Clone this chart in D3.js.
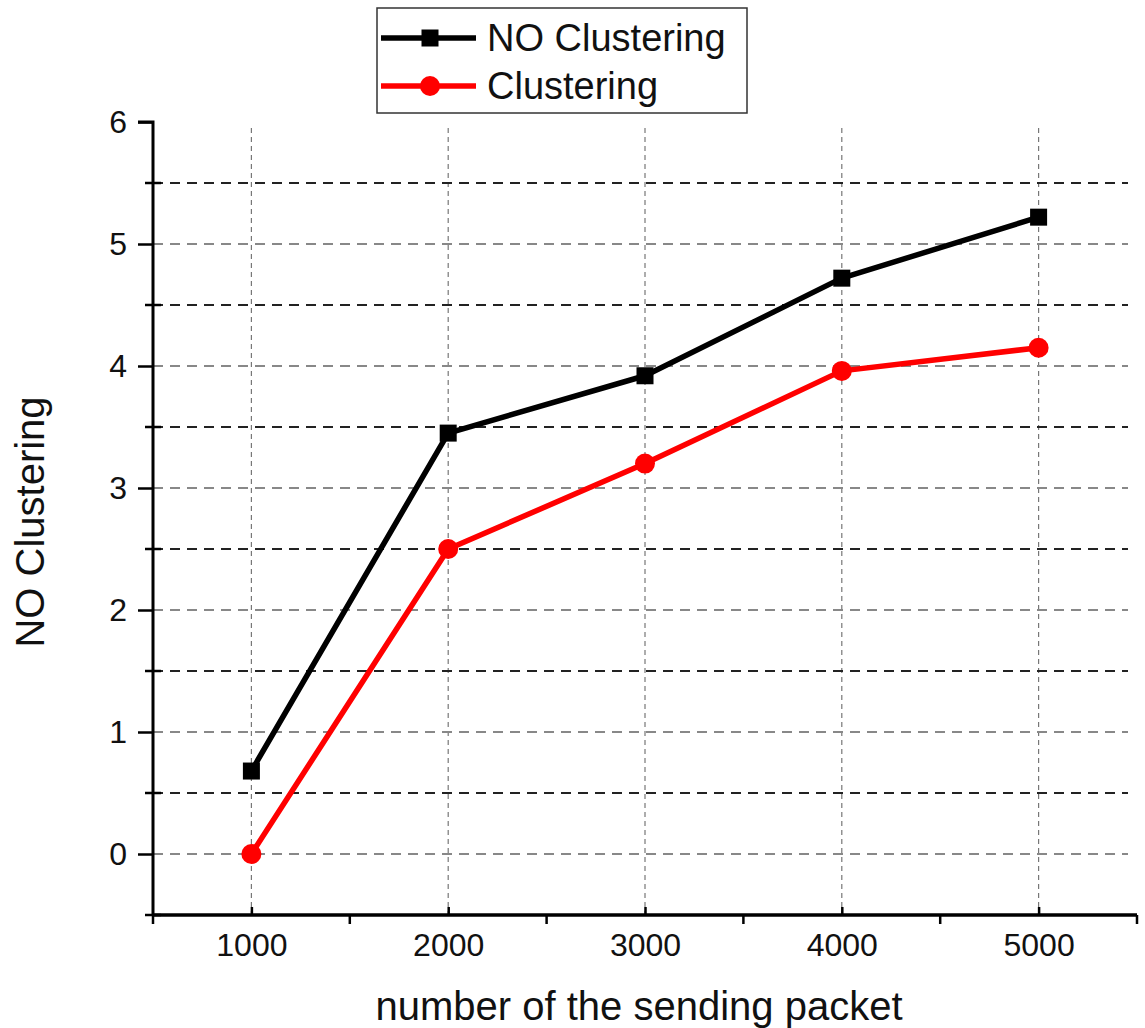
<!DOCTYPE html>
<html><head><meta charset="utf-8">
<script src="https://cdn.jsdelivr.net/npm/d3@7"></script>
<style>body{margin:0;background:#fff;font-family:"Liberation Sans",Arial,sans-serif}</style>
</head><body>
<svg id="c" width="1145" height="1028"></svg>
<script>
const xValues = [1000, 2000, 3000, 4000, 5000];
const noClustering = [0.68, 3.45, 3.92, 4.72, 5.22];
const clustering = [0.0, 2.5, 3.2, 3.96, 4.15];
const seriesNames = ["NO Clustering", "Clustering"];
const yTicks = [0, 1, 2, 3, 4, 5, 6];
const yMinor = [-0.5, 0.5, 1.5, 2.5, 3.5, 4.5, 5.5];
const xTicks = [1000, 2000, 3000, 4000, 5000];
const xMinor = [500, 1500, 2500, 3500, 4500, 5500];

const svg = d3.select("#c");
const L = 153, R = 1137, B = 915;
const x = d3.scaleLinear().domain([500, 5500]).range([L, R]);
const y = d3.scaleLinear().domain([-0.5, 6]).range([B, 122]);
const font = "'Liberation Sans', Arial, sans-serif";

// gridlines
const g = svg.append("g");
g.selectAll(".vg").data(xTicks).join("line")
  .attr("x1", d => x(d)).attr("x2", d => x(d)).attr("y1", 128).attr("y2", B)
  .attr("stroke", "#777").attr("stroke-width", 1.2).attr("stroke-dasharray", "5,4");
g.selectAll(".hg").data(yTicks.filter(d => d < 6)).join("line")
  .attr("x1", L).attr("x2", 1128).attr("y1", d => y(d)).attr("y2", d => y(d))
  .attr("stroke", "#888").attr("stroke-width", 2).attr("stroke-dasharray", "10,7");
g.selectAll(".hm").data(yMinor.filter(d => d > 0)).join("line")
  .attr("x1", L).attr("x2", 1128).attr("y1", d => y(d)).attr("y2", d => y(d))
  .attr("stroke", "#222").attr("stroke-width", 2).attr("stroke-dasharray", "10,7");

// axes
const yAxis = d3.axisLeft(y).tickValues(yTicks).tickSize(15).tickPadding(11).tickFormat(d3.format("d"));
const ya = svg.append("g").attr("transform", `translate(${L},0)`).call(yAxis);
ya.attr("font-size", 32).attr("font-family", font);
ya.select(".domain").attr("d", `M-15,${y(6)}H0V${B}`).attr("stroke-width", 3);
ya.selectAll(".tick line").attr("stroke-width", 2.5);
ya.selectAll(".tick text").attr("fill", "#111");
svg.append("g").selectAll("line").data(yMinor).join("line")
  .attr("x1", L - 8).attr("x2", L + 8).attr("y1", d => y(d)).attr("y2", d => y(d))
  .attr("stroke", "#000").attr("stroke-width", 2.5);

const xAxis = d3.axisBottom(x).tickValues(xTicks).tickSize(-8).tickPadding(18).tickFormat(d3.format("d"));
const xa = svg.append("g").attr("transform", `translate(0,${B})`).call(xAxis);
xa.attr("font-size", 32).attr("font-family", font);
xa.select(".domain").attr("d", `M${L},0H${R}`).attr("stroke-width", 3.5);
xa.selectAll(".tick line").attr("stroke-width", 2.5);
xa.selectAll(".tick text").attr("fill", "#111");
svg.append("g").selectAll("line").data(xMinor).join("line")
  .attr("x1", d => x(d)).attr("x2", d => x(d)).attr("y1", B).attr("y2", B + 9)
  .attr("stroke", "#000").attr("stroke-width", 2.5);

// titles
svg.append("text").attr("x", 639).attr("y", 1020).attr("text-anchor", "middle")
  .attr("font-size", 40).attr("font-family", font).attr("fill", "#111").text("number of the sending packet");
svg.append("text").attr("transform", "translate(44,522) rotate(-90)").attr("text-anchor", "middle")
  .attr("font-size", 40).attr("font-family", font).attr("fill", "#111").text("NO Clustering");

// lines
const line = d3.line().x((d, i) => x(xValues[i])).y(d => y(d));
svg.append("path").datum(noClustering).attr("d", line).attr("fill", "none")
  .attr("stroke", "#000").attr("stroke-width", 5.5).attr("stroke-linejoin", "round");
svg.append("path").datum(clustering).attr("d", line).attr("fill", "none")
  .attr("stroke", "#f00").attr("stroke-width", 5.5).attr("stroke-linejoin", "round");
svg.append("g").selectAll("rect").data(noClustering).join("rect")
  .attr("x", (d, i) => x(xValues[i]) - 8.5).attr("y", d => y(d) - 8.5)
  .attr("width", 17).attr("height", 17).attr("fill", "#000");
svg.append("g").selectAll("circle").data(clustering).join("circle")
  .attr("cx", (d, i) => x(xValues[i])).attr("cy", d => y(d)).attr("r", 10).attr("fill", "#f00");

// legend
const lg = svg.append("g");
lg.append("rect").attr("x", 377).attr("y", 8).attr("width", 370).attr("height", 105)
  .attr("fill", "#fff").attr("stroke", "#333").attr("stroke-width", 1.5);
const lx1 = 381, lx2 = 476, lm = 430;
lg.append("line").attr("x1", lx1).attr("x2", lx2).attr("y1", 38).attr("y2", 38).attr("stroke", "#000").attr("stroke-width", 5.5);
lg.append("rect").attr("x", lm - 8.5).attr("y", 29.5).attr("width", 17).attr("height", 17).attr("fill", "#000");
lg.append("line").attr("x1", lx1).attr("x2", lx2).attr("y1", 86).attr("y2", 86).attr("stroke", "#f00").attr("stroke-width", 5.5);
lg.append("circle").attr("cx", lm).attr("cy", 86).attr("r", 10).attr("fill", "#f00");
lg.append("text").attr("x", 487).attr("y", 51).attr("font-size", 38).attr("font-family", font).attr("fill", "#111").text(seriesNames[0]);
lg.append("text").attr("x", 487).attr("y", 99).attr("font-size", 38).attr("font-family", font).attr("fill", "#111").text(seriesNames[1]);
</script>
</body></html>
